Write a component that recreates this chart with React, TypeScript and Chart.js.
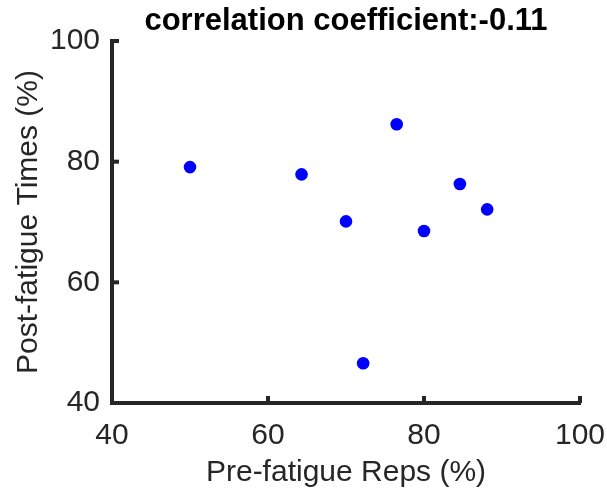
import React, { useEffect, useRef } from "react";
import { Chart, registerables } from "chart.js";

Chart.register(...registerables);

const titleText = "correlation coefficient:-0.11";
const xLabel = "Pre-fatigue Reps (%)";
const yLabel = "Post-fatigue Times (%)";
const xTicks = [40, 60, 80, 100];
const yTicks = [40, 60, 80, 100];
const preFatigueReps = [50.0, 64.3, 70.0, 72.2, 76.5, 80.0, 84.6, 88.1];
const postFatigueTimes = [79.1, 77.9, 70.1, 46.6, 86.2, 68.5, 76.3, 72.1];

const AXIS_COLOR = "#262626";
const FONT = "'Liberation Sans', Arial, Helvetica, sans-serif";

const inwardTicks = {
  id: "inwardTicks",
  afterDraw(chart: any) {
    const { ctx, chartArea } = chart;
    const xs = chart.scales.x;
    const ys = chart.scales.y;
    const len = 7;
    ctx.save();
    ctx.strokeStyle = AXIS_COLOR;
    ctx.lineWidth = 4;
    ctx.lineCap = "butt";
    for (const v of xTicks) {
      const px = xs.getPixelForValue(v);
      ctx.beginPath();
      ctx.moveTo(px, chartArea.bottom);
      ctx.lineTo(px, chartArea.bottom - len);
      ctx.stroke();
    }
    for (const v of yTicks) {
      const py = ys.getPixelForValue(v);
      ctx.beginPath();
      ctx.moveTo(chartArea.left, py);
      ctx.lineTo(chartArea.left + len, py);
      ctx.stroke();
    }
    ctx.restore();
  },
};

export default function App() {
  const ref = useRef<HTMLCanvasElement>(null);
  useEffect(() => {
    if (!ref.current) return;
    const chart = new Chart(ref.current, {
      type: "scatter",
      data: {
        datasets: [
          {
            data: preFatigueReps.map((x, i) => ({ x, y: postFatigueTimes[i] })),
            backgroundColor: "#0000ff",
            borderWidth: 0,
            pointRadius: 6.3,
            pointHoverRadius: 6.3,
          },
        ],
      },
      options: {
        responsive: false,
        animation: false,
        events: [],
        layout: { padding: { left: 0, right: 27, top: 0, bottom: 0 } },
        plugins: {
          legend: { display: false },
          tooltip: { enabled: false },
          title: {
            display: true,
            text: titleText,
            color: "#000000",
            fullSize: false,
            font: { family: FONT, size: 31, weight: "bold", lineHeight: 1 },
            padding: { top: 6, bottom: 4 },
          },
        },
        scales: {
          x: {
            type: "linear",
            min: 40,
            max: 100,
            afterBuildTicks: (s: any) => {
              s.ticks = xTicks.map((v) => ({ value: v }));
            },
            afterFit: (s: any) => {
              s.height = 87;
              s.paddingRight = 0;
              s.paddingLeft = 0;
            },
            grid: { display: false, drawTicks: false },
            border: { display: true, color: AXIS_COLOR, width: 4 },
            ticks: {
              color: AXIS_COLOR,
              font: { family: FONT, size: 30, lineHeight: 1 },
              padding: 18,
              maxRotation: 0,
            },
            title: {
              display: true,
              text: xLabel,
              color: AXIS_COLOR,
              font: { family: FONT, size: 30, lineHeight: 1 },
              padding: { top: 0, bottom: 2 },
            },
          },
          y: {
            type: "linear",
            min: 40,
            max: 100,
            afterBuildTicks: (s: any) => {
              s.ticks = yTicks.map((v) => ({ value: v }));
            },
            afterFit: (s: any) => {
              s.width = 112;
            },
            grid: { display: false, drawTicks: false },
            border: { display: true, color: AXIS_COLOR, width: 4 },
            ticks: {
              color: AXIS_COLOR,
              font: { family: FONT, size: 30, lineHeight: 1 },
              padding: 12,
            },
            title: {
              display: true,
              text: yLabel,
              color: AXIS_COLOR,
              font: { family: FONT, size: 30, lineHeight: 1 },
              padding: { top: 14, bottom: 0 },
            },
          },
        },
      },
      plugins: [inwardTicks],
    });
    return () => chart.destroy();
  }, []);
  return (
    <div style={{ position: "fixed", left: 0, top: 0, width: 607, height: 490, background: "#fff" }}>
      <canvas ref={ref} width={607} height={490} style={{ display: "block" }} />
    </div>
  );
}
